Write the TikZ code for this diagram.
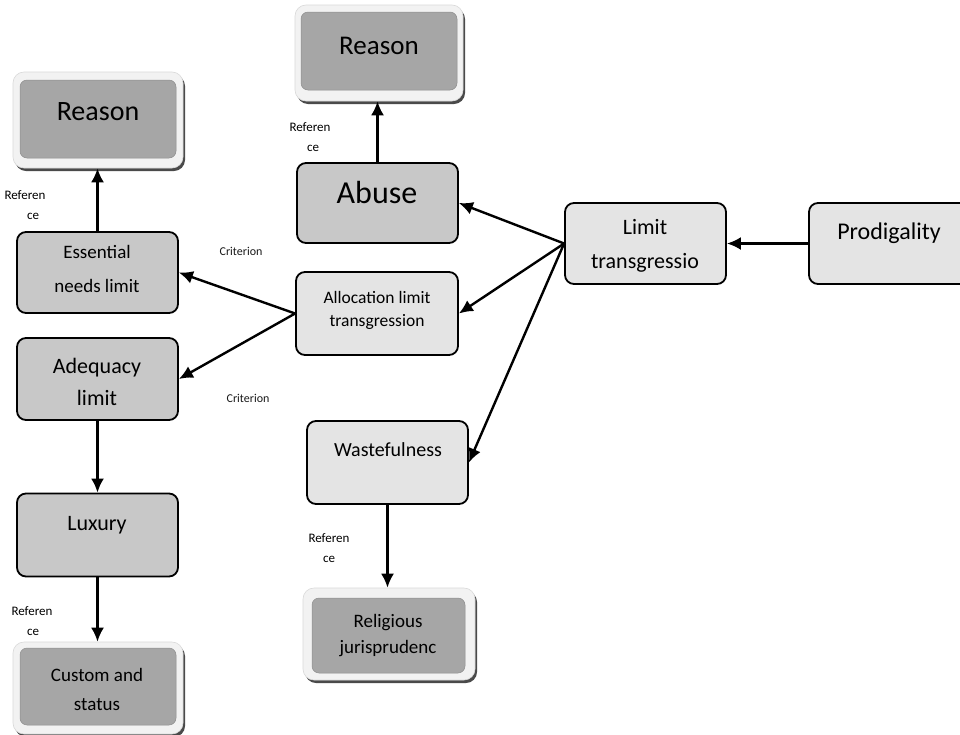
\documentclass[tikz,border=0pt]{standalone}
\usepackage{fontspec}
\setmainfont{Carlito}
\usetikzlibrary{arrows.meta}
\definecolor{midfill}{HTML}{C8C8C8}
\definecolor{lightfill}{HTML}{E4E4E4}
\definecolor{darkfill}{HTML}{A6A6A6}
\definecolor{framefill}{HTML}{F2F2F2}
\definecolor{shadowcol}{HTML}{4A4A4A}
\begin{document}
\begin{tikzpicture}[x=1pt,y=-1pt,
  box/.style={draw=black,line width=1.8pt,rounded corners=9pt,inner sep=0pt},
  midbox/.style={box,fill=midfill},
  lightbox/.style={box,fill=lightfill},
  framebox/.style={draw=black!15,line width=0.6pt,fill=framefill,rounded corners=11pt,inner sep=0pt},
  shadowbox/.style={fill=shadowcol,rounded corners=11pt,inner sep=0pt},
  innerbox/.style={fill=darkfill,draw=darkfill!85!black,line width=0.5pt,rounded corners=7pt,inner sep=0pt},
  arr/.style={line width=2.4pt,-{Latex[length=14pt,width=13pt]}},
  txt/.style={inner sep=0pt,align=center,text=black},
  lab/.style={inner sep=0pt,text=black,font=\fontsize{13}{13}\selectfont},
  crit/.style={inner sep=0pt,text=black!90,font=\fontsize{12}{12}\selectfont}
]
\clip (0,0) rectangle (960,734);
\fill[white] (0,0) rectangle (960,734);

% framed dark boxes
\node[shadowbox,minimum width=168pt,minimum height=96pt] (reasonTs) at (381,56) {};
\node[framebox,minimum width=168pt,minimum height=96pt] (reasonT) at (379,53) {};
\node[innerbox,minimum width=156pt,minimum height=78pt] (reasonTi) at (379,51) {};
\node[txt,font=\fontsize{27}{27}\selectfont] (reasonTt) at (379,46) {Reason};

\node[shadowbox,minimum width=170pt,minimum height=96pt] (reasonLs) at (100,123) {};
\node[framebox,minimum width=170pt,minimum height=96pt] (reasonL) at (98,120) {};
\node[innerbox,minimum width=156pt,minimum height=78pt] (reasonLi) at (98,119) {};
\node[txt,font=\fontsize{28}{28}\selectfont] (reasonLt) at (98,112) {Reason};

\node[shadowbox,minimum width=170pt,minimum height=92pt] (customs) at (100,691) {};
\node[framebox,minimum width=170pt,minimum height=92pt] (custom) at (98,688) {};
\node[innerbox,minimum width=156pt,minimum height=77pt] (customi) at (98,686.5) {};
\node[txt,font=\fontsize{19}{29}\selectfont] (customt) at (97,689) {Custom and\\status};

\node[shadowbox,minimum width=172pt,minimum height=92pt] (religs) at (391,637) {};
\node[framebox,minimum width=172pt,minimum height=92pt] (relig) at (389,634) {};
\node[innerbox,minimum width=153pt,minimum height=75pt] (religi) at (388.5,635.5) {};
\node[txt,font=\fontsize{19}{26}\selectfont] (religt) at (388,636) {Religious\\jurisprudenc};

% mid gray boxes
\node[midbox,minimum width=161pt,minimum height=81pt] (ess) at (97.5,272.5) {};
\node[txt,font=\fontsize{19}{34}\selectfont] (esst) at (97,269) {Essential\\needs limit};

\node[midbox,minimum width=161pt,minimum height=82pt] (adeq) at (97.5,379) {};
\node[txt,font=\fontsize{22}{32}\selectfont] (adeqt) at (97,382) {Adequacy\\limit};

\node[midbox,minimum width=161pt,minimum height=83pt] (lux) at (97.5,535) {};
\node[txt,font=\fontsize{22}{22}\selectfont] (luxt) at (97,525) {Luxury};

\node[midbox,minimum width=161pt,minimum height=80pt] (abuse) at (377.5,203) {};
\node[txt,font=\fontsize{32}{32}\selectfont] (abuset) at (377,193) {Abuse};

% light boxes
\node[lightbox,minimum width=162pt,minimum height=83pt] (alloc) at (377,313.5) {};
\node[txt,font=\fontsize{17.5}{23}\selectfont] (alloct) at (377,310) {Allocation limit\\transgression};

\node[lightbox,minimum width=161pt,minimum height=81pt] (limit) at (645.5,243.5) {};
\node[txt,font=\fontsize{22}{34}\selectfont] (limitt) at (645,246) {Limit\\transgressio};

\node[lightbox,minimum width=161pt,minimum height=81pt] (prod) at (889.5,243.5) {};
\node[txt,font=\fontsize{24}{24}\selectfont] (prodt) at (889,233) {Prodigality};

\node[lightbox,minimum width=161pt,minimum height=83pt] (waste) at (387.5,462.5) {};
\node[txt,font=\fontsize{20}{20}\selectfont] (wastet) at (388,450) {Wastefulness};

% connectors
\draw[arr] (abuse.north) -- (abuse.north |- reasonT.south);
\draw[arr] (ess.north) -- (ess.north |- reasonL.south);
\draw[arr] (alloc.west) -- (ess.east);
\draw[arr] (alloc.west) -- (adeq.east);
\draw[arr] (limit.west) -- (abuse.east);
\draw[arr] (limit.west) -- (alloc.east);
\draw[arr] (limit.west) -- (waste.east);
\draw[arr] (prod.west) -- (limit.east);
\draw[arr] (adeq.south) -- (lux.north);
\draw[arr] (lux.south) -- (lux.south |- custom.north);
\draw[arr] (waste.south) -- (waste.south |- relig.north);

% labels
\node[lab] (r1a) at (310,127) {Referen};
\node[lab] (r1b) at (313,148) {ce};
\node[lab] (r2a) at (25,195) {Referen};
\node[lab] (r2b) at (33,216) {ce};
\node[lab] (r3a) at (329,538) {Referen};
\node[lab] (r3b) at (329,559) {ce};
\node[lab] (r4a) at (32,611) {Referen};
\node[lab] (r4b) at (33,632) {ce};
\node[crit] (c1) at (241,251) {Criterion};
\node[crit] (c2) at (248,398) {Criterion};
\end{tikzpicture}
\end{document}
